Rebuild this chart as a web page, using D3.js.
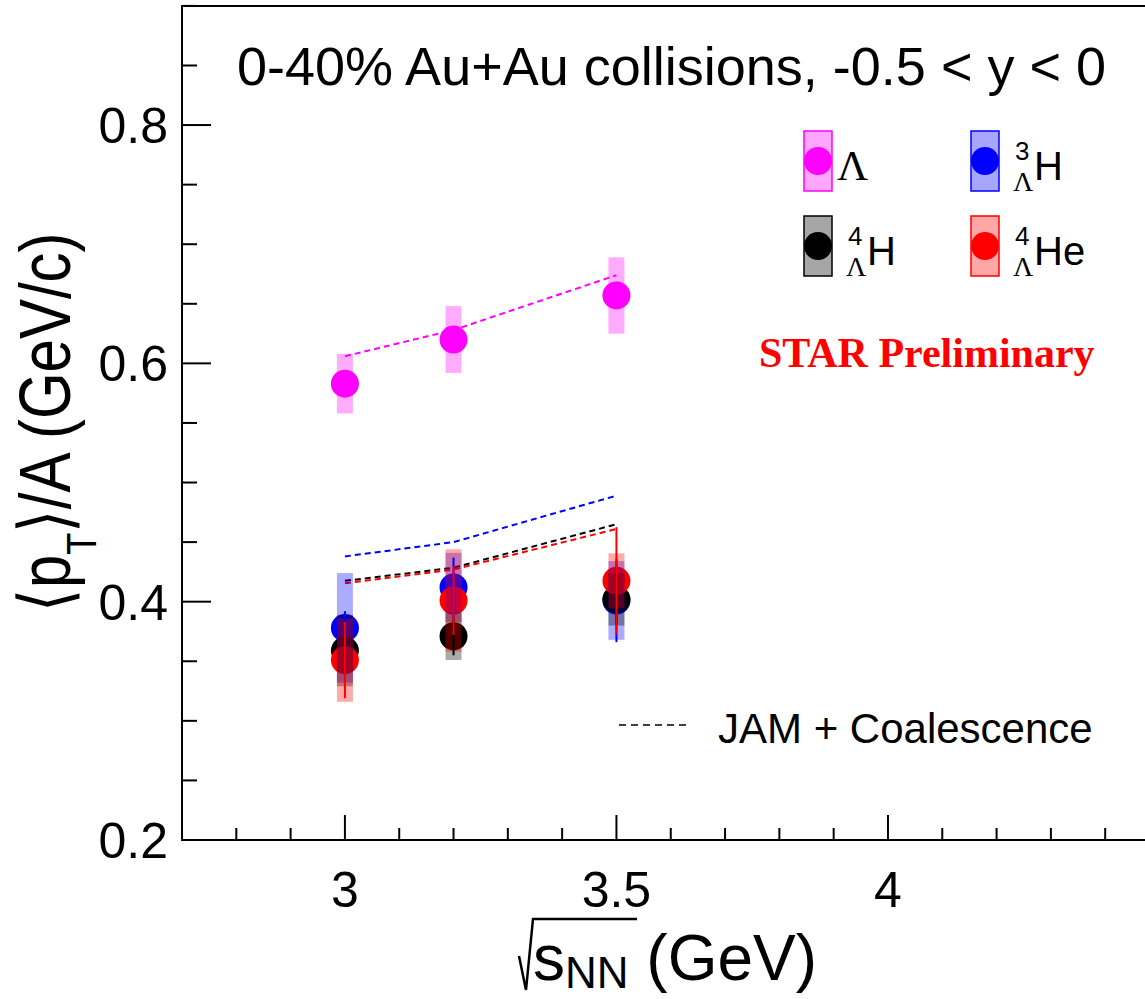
<!DOCTYPE html>
<html lang="en">
<head>
  <meta charset="UTF-8">
  <title>Mean pT per nucleon vs sqrt(sNN)</title>
  <script src="https://d3js.org/d3.v7.min.js"></script>
  <style>
    body { margin: 0; background: #fff; }
    svg { display: block; }
    text { font-family: "Liberation Sans", Arial, Helvetica, sans-serif; fill: #000; }
    .serif { font-family: "Liberation Serif", "Times New Roman", serif; }
  </style>
</head>
<body>
  <svg id="chart" width="1145" height="999"></svg>
  <script>
    // collision energies (GeV)
    const energies = [3.0, 3.2, 3.5];

    // <pT>/A measurements: value, systematic (box) and statistical (bar) errors
    const lambdaVal = [0.583, 0.620, 0.657];
    const lambdaSys = [0.025, 0.028, 0.032];
    const lambdaStat = [0.003, 0.003, 0.003];

    const h3Val = [0.378, 0.412, 0.401];
    const h3Sys = [0.046, 0.029, 0.033];
    const h3Stat = [0.014, 0.025, 0.035];

    const h4Val = [0.359, 0.371, 0.402];
    const h4Sys = [0.030, 0.020, 0.022];
    const h4Stat = [0.020, 0.016, 0.020];

    const he4Val = [0.351, 0.401, 0.4175];
    const he4Sys = [0.035, 0.043, 0.023];
    const he4Stat = [0.032, 0.029, 0.045];

    // JAM + Coalescence model curves
    const lambdaJam = [0.606, 0.628, 0.674];
    const h3Jam = [0.438, 0.450, 0.489];
    const h4Jam = [0.4175, 0.4285, 0.465];
    const he4Jam = [0.4155, 0.427, 0.461];

    const xTicks = [3, 3.5, 4];
    const yTicks = [0.2, 0.4, 0.6, 0.8];

    const svg = d3.select("#chart");

    const x = d3.scaleLinear().domain([2.7, 4.5]).range([182, 1159.5]);
    const y = d3.scaleLinear().domain([0.2, 0.9]).range([840, 5.9]);

    const series = [
      { name: "lambda", color: "#ff00ff", val: lambdaVal, sys: lambdaSys, stat: lambdaStat, jam: lambdaJam },
      { name: "h3", color: "#0000ff", val: h3Val, sys: h3Sys, stat: h3Stat, jam: h3Jam },
      { name: "h4", color: "#000000", val: h4Val, sys: h4Sys, stat: h4Stat, jam: h4Jam },
      { name: "he4", color: "#ff0000", val: he4Val, sys: he4Sys, stat: he4Stat, jam: he4Jam }
    ];
    const pts = s => energies.map((e, i) => ({ e, v: s.val[i], sys: s.sys[i], stat: s.stat[i] }));

    const boxW = 16, r = 14;

    // model lines (under the points)
    const line = d3.line().x((d, i) => x(energies[i])).y(d => y(d));
    series.forEach(s => {
      svg.append("path")
        .attr("d", line(s.jam))
        .attr("fill", "none")
        .attr("stroke", s.color)
        .attr("stroke-width", 2)
        .attr("stroke-dasharray", "6,4");
    });

    // Lambda: box then marker
    const lam = series[0];
    svg.append("g").selectAll("rect").data(pts(lam)).enter().append("rect")
      .attr("x", d => x(d.e) - boxW / 2)
      .attr("y", d => y(d.v + d.sys))
      .attr("width", boxW)
      .attr("height", d => y(d.v - d.sys) - y(d.v + d.sys))
      .attr("fill", lam.color)
      .attr("fill-opacity", 0.33);
    svg.append("g").selectAll("circle").data(pts(lam)).enter().append("circle")
      .attr("cx", d => x(d.e)).attr("cy", d => y(d.v)).attr("r", r)
      .attr("fill", lam.color);

    // hypernuclei: markers, then translucent boxes, then stat bars
    const hyper = series.slice(1);
    hyper.forEach(s => {
      svg.append("g").selectAll("circle").data(pts(s)).enter().append("circle")
        .attr("cx", d => x(d.e)).attr("cy", d => y(d.v)).attr("r", r)
        .attr("fill", s.color);
    });
    hyper.forEach(s => {
      svg.append("g").selectAll("rect").data(pts(s)).enter().append("rect")
        .attr("x", d => x(d.e) - boxW / 2)
        .attr("y", d => y(d.v + d.sys))
        .attr("width", boxW)
        .attr("height", d => y(d.v - d.sys) - y(d.v + d.sys))
        .attr("fill", s.color)
        .attr("fill-opacity", 0.33);
    });
    hyper.forEach(s => {
      svg.append("g").selectAll("line").data(pts(s)).enter().append("line")
        .attr("x1", d => x(d.e)).attr("x2", d => x(d.e))
        .attr("y1", d => y(d.v + d.stat)).attr("y2", d => y(d.v - d.stat))
        .attr("stroke", s.color)
        .attr("stroke-width", 2);
    });

    // frame
    svg.append("path")
      .attr("d", `M${x(4.5)},${y(0.9)} L${x(2.7)},${y(0.9)} L${x(2.7)},${y(0.2)} L${x(4.5)},${y(0.2)}`)
      .attr("fill", "none").attr("stroke", "#000").attr("stroke-width", 2);

    // y ticks
    const yMinor = d3.range(0.2, 0.9001, 0.05);
    svg.append("g").selectAll("line").data(yMinor).enter().append("line")
      .attr("x1", x(2.7))
      .attr("x2", d => x(2.7) + (yTicks.some(t => Math.abs(t - d) < 1e-6) ? 29 : 15))
      .attr("y1", d => y(d)).attr("y2", d => y(d))
      .attr("stroke", "#000").attr("stroke-width", 2);
    svg.append("g").selectAll("text").data(yTicks).enter().append("text")
      .attr("x", 168)
      .attr("y", d => y(d) + 18)
      .attr("text-anchor", "end")
      .style("font-size", "50px")
      .text(d => d3.format(".1f")(d));

    // x ticks
    const xMinor = d3.range(2.8, 4.45, 0.1);
    svg.append("g").selectAll("line").data(xMinor).enter().append("line")
      .attr("x1", d => x(d)).attr("x2", d => x(d))
      .attr("y1", y(0.2))
      .attr("y2", d => y(0.2) - (xTicks.some(t => Math.abs(t - d) < 1e-6) ? 25 : 12))
      .attr("stroke", "#000").attr("stroke-width", 2);
    svg.append("g").selectAll("text").data(xTicks).enter().append("text")
      .attr("x", d => x(d))
      .attr("y", 907)
      .attr("text-anchor", "middle")
      .style("font-size", "50px")
      .text(d => d);

    // axis titles
    const yt = svg.append("text")
      .attr("transform", "translate(70,422) rotate(-90) scale(1,1.2)")
      .attr("text-anchor", "middle")
      .style("font-size", "60px");
    yt.append("tspan").text("\u27E8p");
    yt.append("tspan").attr("dy", 22).style("font-size", "36px").text("T");
    yt.append("tspan").attr("dy", -22).text("\u27E9/A (GeV/c)");

    svg.append("path")
      .attr("d", "M519,956 L526,990 L533,919 L637,919")
      .attr("fill", "none").attr("stroke", "#000").attr("stroke-width", 2.5);
    const xt = svg.append("text").attr("x", 533).attr("y", 980).style("font-size", "64px");
    xt.append("tspan").text("s");
    xt.append("tspan").attr("dy", 8).style("font-size", "44px").text("NN");
    xt.append("tspan").attr("dy", -8).style("font-size", "64px").text(" (GeV)");

    // header
    svg.append("text").attr("x", 237).attr("y", 85)
      .style("font-size", "54px")
      .text("0-40% Au+Au collisions, -0.5 < y < 0");

    svg.append("text").attr("class", "serif")
      .attr("x", 759).attr("y", 367)
      .style("font-size", "42px").style("font-weight", "bold").style("fill", "#ff0000")
      .text("STAR Preliminary");

    // legend
    const legend = [
      { s: series[0], bx: 804, by: 131 },
      { s: series[1], bx: 971, by: 131 },
      { s: series[2], bx: 804, by: 216 },
      { s: series[3], bx: 971, by: 216 }
    ];
    legend.forEach(l => {
      svg.append("rect")
        .attr("x", l.bx).attr("y", l.by).attr("width", 28).attr("height", 60)
        .attr("fill", l.s.color).attr("fill-opacity", 0.35)
        .attr("stroke", l.s.color).attr("stroke-width", 1.5);
      svg.append("circle")
        .attr("cx", l.bx + 14).attr("cy", l.by + 30).attr("r", r)
        .attr("fill", l.s.color);
    });
    svg.append("text").attr("class", "serif").attr("x", 837).attr("y", 180)
      .style("font-size", "43px").text("\u039B");

    function nucleus(tx, base, a, sym) {
      svg.append("text").attr("x", tx + 2).attr("y", base - 20).style("font-size", "26px").text(a);
      svg.append("text").attr("class", "serif").attr("x", tx).attr("y", base + 11)
        .style("font-size", "28px").text("\u039B");
      svg.append("text").attr("x", tx + 21).attr("y", base).style("font-size", "40px").text(sym);
    }
    nucleus(1013, 180, "3", "H");
    nucleus(846, 265, "4", "H");
    nucleus(1013, 265, "4", "He");

    svg.append("line")
      .attr("x1", 619).attr("x2", 691).attr("y1", 725).attr("y2", 725)
      .attr("stroke", "#000").attr("stroke-width", 1.5).attr("stroke-dasharray", "7,5");
    svg.append("text").attr("x", 718).attr("y", 743)
      .style("font-size", "42px")
      .text("JAM + Coalescence");
  </script>
</body>
</html>
